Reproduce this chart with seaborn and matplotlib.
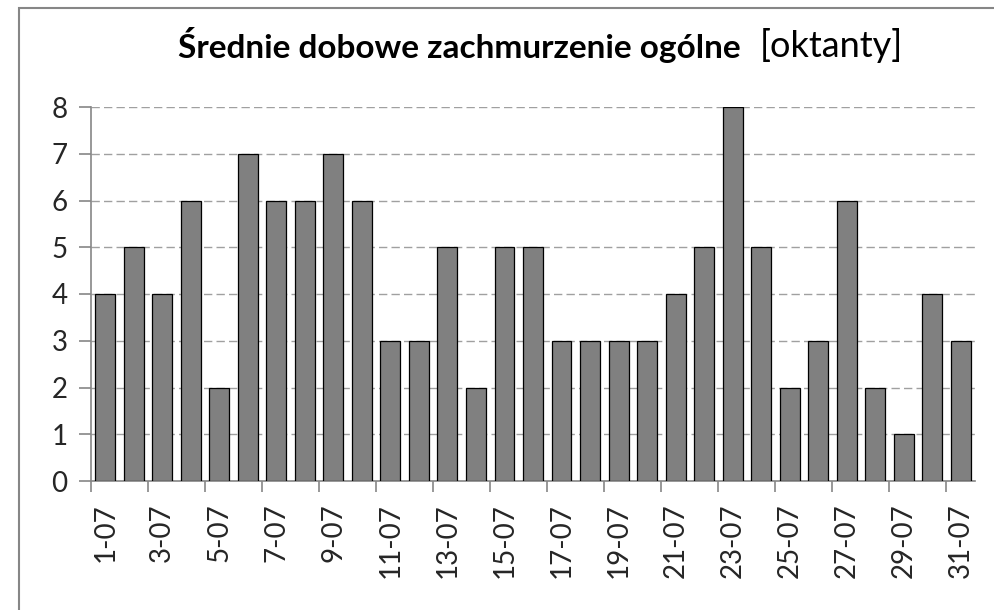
import matplotlib
matplotlib.use("Agg")
import matplotlib.pyplot as plt
import seaborn as sns
import numpy as np
import pandas as pd
from matplotlib.patches import Rectangle

days = [f"{d}-07" for d in range(1, 32)]
cloud = [4, 5, 4, 6, 2, 7, 6, 6, 7, 6, 3, 3, 5, 2, 5, 5, 3, 3, 3, 3, 4, 5, 8, 5, 2, 3, 6, 2, 1, 4, 3]
yticks = [0, 1, 2, 3, 4, 5, 6, 7, 8]
title_bold = "Średnie dobowe zachmurzenie ogólne"
title_unit = "[oktanty]"

sns.set_theme(style="white")
plt.rcParams['font.family'] = ['Lato', 'DejaVu Sans']

W, H = 995, 610
fig = plt.figure(figsize=(W / 100, H / 100), dpi=100)
ax = fig.add_axes([91 / W, 1 - 481 / H, (975 - 91) / W, (481 - 107) / H])

df = pd.DataFrame({"day": days, "cloud": cloud})
sns.barplot(data=df, x="day", y="cloud", order=days, color="#808080", saturation=1,
            edgecolor="black", linewidth=0.9, width=0.7, ax=ax, zorder=3)

ax.set_xlim(-0.5, len(days) - 0.5)
ax.set_ylim(0, 8)
ax.set_yticks(yticks)
ax.set_yticklabels([str(v) for v in yticks])
ax.yaxis.grid(True, color="#a0a0a0", linestyle=(0, (6, 3)), linewidth=1.0)
ax.set_axisbelow(True)

# major ticks at category boundaries every 2 days, labels on minor ticks at centers
ax.set_xticks(np.arange(-0.5, len(days) - 1, 2))
ax.set_xticklabels([])
ax.set_xticks(np.arange(0, len(days), 2), minor=True)
ax.set_xticklabels(days[::2], minor=True, rotation=90, va="top", ha="center")
ax.tick_params(axis="x", which="major", length=8, width=1.2, color="#868686", bottom=True)
ax.tick_params(axis="x", which="minor", length=0, pad=16, labelsize=20, bottom=True)
ax.tick_params(axis="y", length=9, width=1.2, color="#868686", pad=8, labelsize=20, left=True)
ax.set_xlabel("")
ax.set_ylabel("")

for s in ["top", "right"]:
    ax.spines[s].set_visible(False)
for s in ["left", "bottom"]:
    ax.spines[s].set_color("#868686")
    ax.spines[s].set_linewidth(1.2)

# title (bold part + regular unit)
t1 = fig.text(178 / W, 1 - 58 / H, title_bold, fontsize=24, fontweight="bold",
              ha="left", va="baseline", color="black")
fig.canvas.draw()
ax.annotate(title_unit, xy=(1, 0), xycoords=t1, xytext=(14, 0), textcoords="offset points",
            va="bottom", ha="left", fontsize=26, color="black", annotation_clip=False)

# outer chart border
fig.patches.append(Rectangle((19 / W, -0.1), 1.2, 1.1 - 8 / H, transform=fig.transFigure,
                             fill=False, edgecolor="#868686", linewidth=1.5, clip_on=False))

fig.savefig("out.png", dpi=100)
